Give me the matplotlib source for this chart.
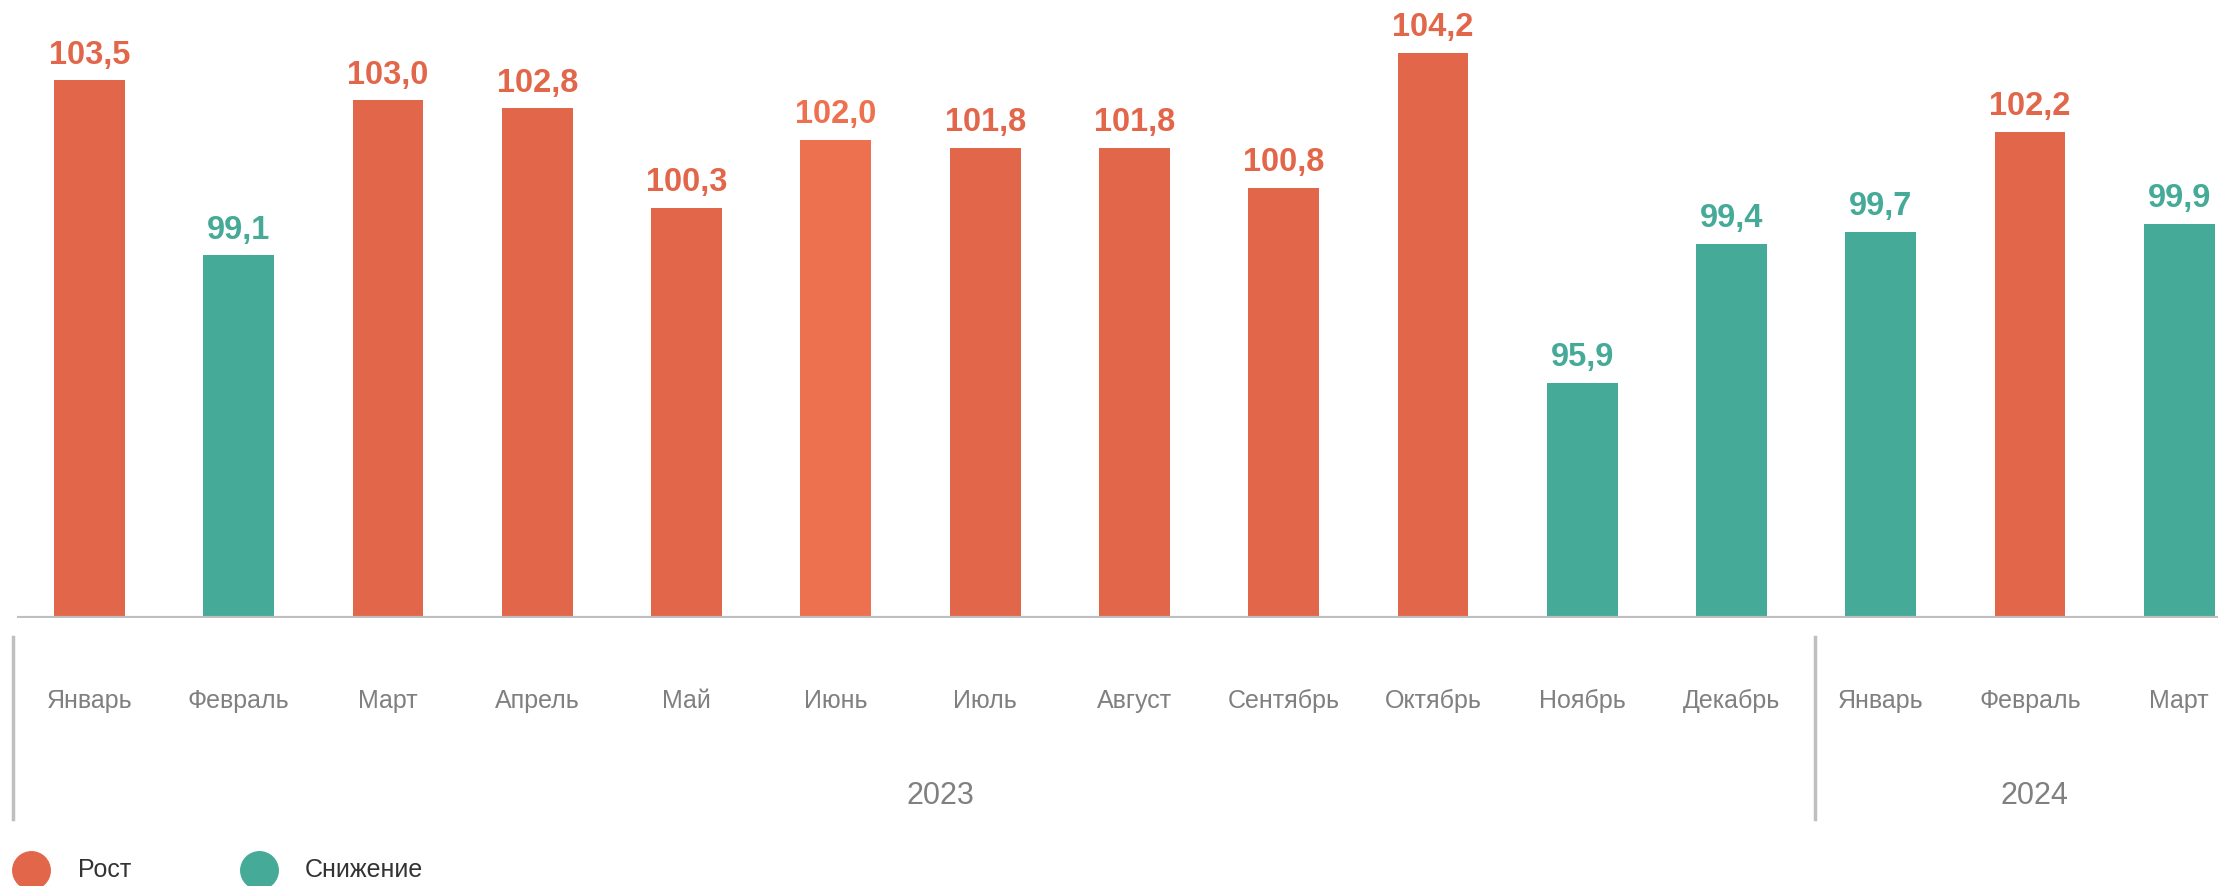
import matplotlib
matplotlib.use("Agg")
import matplotlib.pyplot as plt
from matplotlib.lines import Line2D
from matplotlib.transforms import blended_transform_factory

months = ["Январь", "Февраль", "Март", "Апрель", "Май", "Июнь", "Июль", "Август",
          "Сентябрь", "Октябрь", "Ноябрь", "Декабрь", "Январь", "Февраль", "Март"]
years = ["2023"] * 12 + ["2024"] * 3
values = [103.5, 99.1, 103.0, 102.8, 100.3, 102.0, 101.8, 101.8, 100.8, 104.2,
          95.9, 99.4, 99.7, 102.2, 99.9]
legend_labels = ["Рост", "Снижение"]

ORANGE = "#E2674A"
ORANGE_LIGHT = "#EE714F"
TEAL = "#45AA98"
GRAY_TXT = "#808080"
AXIS_GRAY = "#BFBFBF"

plt.rcParams['font.family'] = ['Liberation Sans', 'DejaVu Sans']

fig = plt.figure(figsize=(22.21, 8.86), dpi=100)
ax = fig.add_axes([0.0077, 0.303, 0.991, 0.697])

x = list(range(len(values)))
colors = [ORANGE if v >= 100 else TEAL for v in values]
colors[5] = ORANGE_LIGHT
ax.bar(x, values, width=0.474, bottom=0, color=colors, zorder=2)
ax.set_ylim(90, 105.52)
ax.set_xlim(-0.485, 14.26)

for xi, v, c in zip(x, values, colors):
    ax.annotate(f"{v:.1f}".replace(".", ","), (xi, v), xytext=(0, 12),
                textcoords="offset points", ha="center", va="baseline",
                fontsize=23.5, fontweight="bold", color=c)

for s in ax.spines.values():
    s.set_visible(False)
ax.axhline(90, color=AXIS_GRAY, lw=3, zorder=3)
ax.set_xticks([])
ax.set_yticks([])

tr = blended_transform_factory(ax.transData, fig.transFigure)
for xi, m in zip(x, months):
    fig.text(xi, 0.209, m, transform=tr, ha="center", va="center",
             fontsize=18, color=GRAY_TXT)

# year group labels and separators
groups = []
for i, y in enumerate(years):
    if not groups or groups[-1][0] != y:
        groups.append([y, i, i])
    else:
        groups[-1][2] = i
year_centers = {"2023": 5.7, "2024": 13.03}
sep_offsets = {"2023": -0.51, "2024": -0.44}
for y, a, b in groups:
    fig.text(year_centers.get(y, (a + b) / 2), 0.1016, y, transform=tr,
             ha="center", va="center", fontsize=22, color=GRAY_TXT)
    xs = a + sep_offsets.get(y, -0.5)
    fig.add_artist(Line2D([xs, xs], [0.0756, 0.281], transform=tr,
                          color=AXIS_GRAY, lw=2.5))

# legend
legend_items = [(31, 78, ORANGE, legend_labels[0]), (259, 305, TEAL, legend_labels[1])]
for cx, tx, c, lab in legend_items:
    fig.add_artist(Line2D([cx / 2221], [16 / 886], transform=fig.transFigure,
                          marker="o", markersize=27, color=c, linestyle="none"))
    fig.text(tx / 2221, 16 / 886, lab, ha="left", va="center", fontsize=18,
             color="#333333")

fig.savefig("out.png", dpi=100)
